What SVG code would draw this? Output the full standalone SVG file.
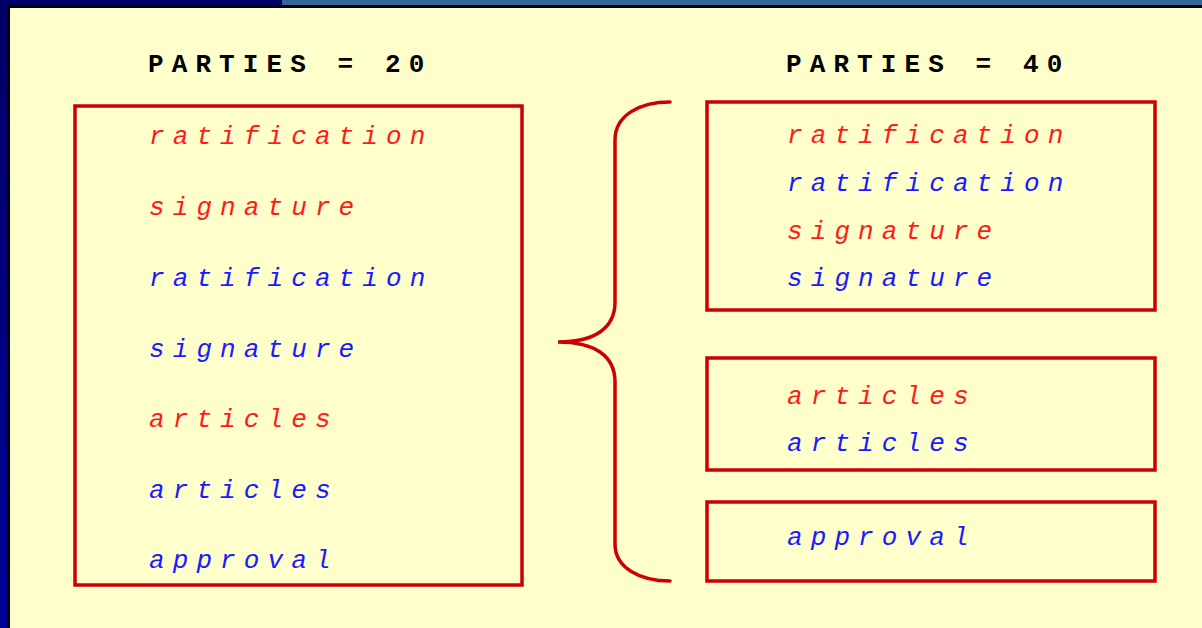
<svg xmlns="http://www.w3.org/2000/svg" width="1202" height="628" viewBox="0 0 1202 628">
  <style>
    .box { fill: none; stroke: #CC0000; stroke-width: 3.5; }
    .brace { fill: none; stroke: #CC0000; stroke-width: 3.5; stroke-linecap: round; }
    .hdr { font-family: "Liberation Mono", "Courier New", monospace; font-weight: bold; font-size: 26px; letter-spacing: 8.1px; fill: #000000; }
    .t { font-family: "Liberation Mono", "Courier New", monospace; font-style: italic; font-size: 26px; letter-spacing: 8.1px; }
    .r { fill: #FF1A1A; }
    .b { fill: #1A1AFF; }
  </style>
  <defs>
    <linearGradient id="sideBand" x1="0" y1="0" x2="0" y2="1">
      <stop offset="0" stop-color="#000066"/>
      <stop offset="1" stop-color="#000099"/>
    </linearGradient>
  </defs>

  <!-- page background and frame bands -->
  <rect x="0" y="0" width="1202" height="628" fill="#FFFFCC"/>
  <rect x="0" y="0" width="8" height="628" fill="url(#sideBand)"/>
  <rect x="0" y="0" width="282" height="6" fill="#000066"/>
  <rect x="282" y="0" width="920" height="6" fill="#336699"/>
  <rect x="8" y="5" width="1194" height="3" fill="#000000"/>
  <rect x="7" y="5" width="3" height="623" fill="#000000"/>

  <!-- headers -->
  <text class="hdr" x="148" y="72">PARTIES = 20</text>
  <text class="hdr" x="786" y="72">PARTIES = 40</text>

  <!-- left group -->
  <g id="left-box">
    <rect class="box" x="75" y="106" width="447" height="479"/>
    <text class="t r" x="149" y="144">ratification</text>
    <text class="t r" x="149" y="215">signature</text>
    <text class="t b" x="149" y="286">ratification</text>
    <text class="t b" x="149" y="357">signature</text>
    <text class="t r" x="149" y="427">articles</text>
    <text class="t b" x="149" y="498">articles</text>
    <text class="t b" x="149" y="568">approval</text>
  </g>

  <!-- right groups -->
  <g id="right-box-1">
    <rect class="box" x="707" y="102" width="448" height="208"/>
    <text class="t r" x="787" y="143">ratification</text>
    <text class="t b" x="787" y="191">ratification</text>
    <text class="t r" x="787" y="239">signature</text>
    <text class="t b" x="787" y="286">signature</text>
  </g>
  <g id="right-box-2">
    <rect class="box" x="707" y="358" width="448" height="112"/>
    <text class="t r" x="787" y="404">articles</text>
    <text class="t b" x="787" y="451">articles</text>
  </g>
  <g id="right-box-3">
    <rect class="box" x="707" y="502" width="448" height="79"/>
    <text class="t b" x="787" y="545">approval</text>
  </g>

  <!-- connector: curly brace -->
  <g id="connectors">
    <path class="brace" d="M670,102 C640,102 615,115 615,140 L615,302 C615,328 595,342 558,342 C595,342 615,356 615,382 L615,544 C615,568 640,581 670,581"/>
  </g>
</svg>
